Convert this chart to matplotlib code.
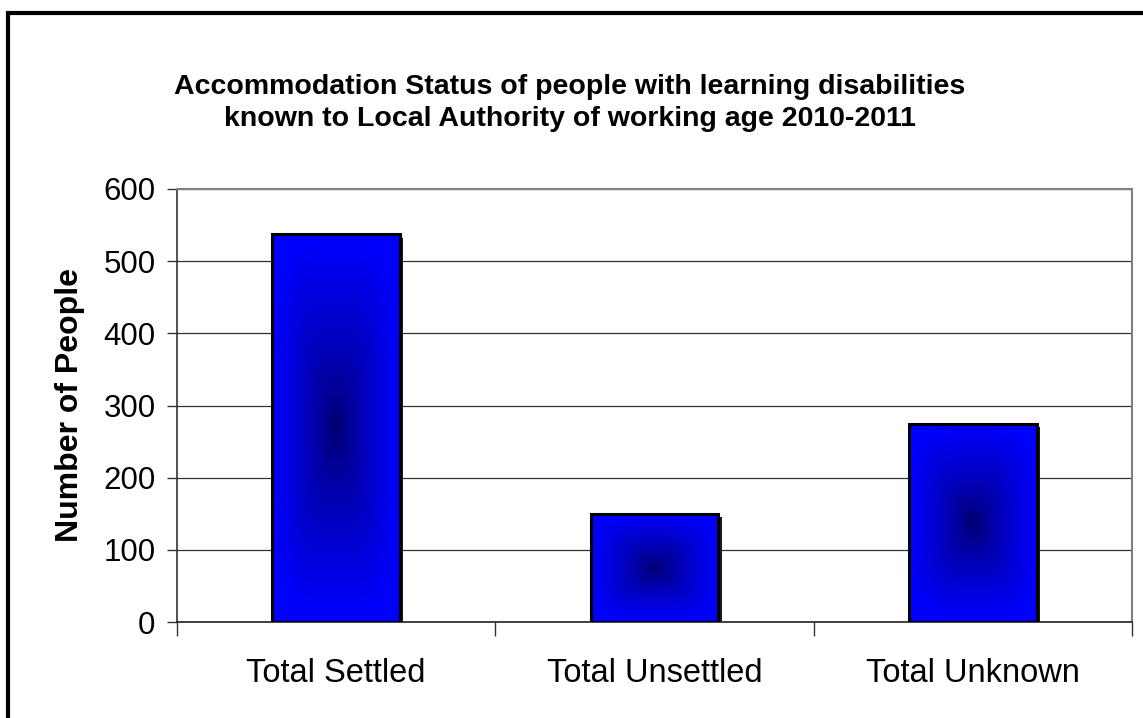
import numpy as np
import matplotlib
matplotlib.use('Agg')
from matplotlib import pyplot as plt
from matplotlib import patheffects as pe
from matplotlib.patches import Rectangle

categories = ['Total Settled', 'Total Unsettled', 'Total Unknown']
people = [537, 150, 275]
yticks = [0, 100, 200, 300, 400, 500, 600]

plt.rcParams['font.family'] = ['Liberation Sans', 'DejaVu Sans']

fig = plt.figure(figsize=(11.43, 7.18), dpi=100)
ax = fig.add_axes([177 / 1143, 1 - 622 / 718, (1132 - 177) / 1143, (622 - 189) / 718])

# outer chart frame (only left and top edges fall inside the image)
fig.patches.append(Rectangle((8 / 1143, -0.1), 1.2, 1 - 13 / 718 + 0.1, transform=fig.transFigure,
                             fill=False, edgecolor='black', lw=3, zorder=0))


def gradient_img(n=300):
    # rectangular "from centre" fill: dark navy in the middle, pure blue at the edges
    u = np.linspace(-1, 1, n)
    xx, yy = np.meshgrid(u, u)
    p = 4.0
    t = (np.abs(xx) ** p + np.abs(yy) ** p) ** (1 / p)
    t = np.clip(t, 0, 1) ** 0.7
    lo = np.array([0.0, 0.0, 0.40])
    hi = np.array([0.0, 0.0, 1.0])
    return lo + (hi - lo) * t[..., None]


x = np.arange(len(categories))
width = 0.4
img = gradient_img()
for xi, v in zip(x, people):
    ax.bar(xi, v, width=width, facecolor='none', edgecolor='black', lw=2.2, zorder=4)
    ax.add_patch(Rectangle((xi - width / 2, 0), width, v, facecolor='#1a1a1a', edgecolor='none', zorder=2,
                           path_effects=[pe.Stroke(offset=(2.5, -2.5))]))
    ax.imshow(img, extent=(xi - width / 2, xi + width / 2, 0, v), aspect='auto', zorder=3,
              interpolation='bilinear')

ax.set_xlim(-0.5, 2.5)
ax.set_ylim(0, 600)
ax.set_yticks(yticks)
ax.set_yticklabels([str(t) for t in yticks], fontsize=22.5)
ax.yaxis.grid(True, color='#333333', lw=0.9)
ax.set_axisbelow(True)

ax.set_xticks(x)
ax.set_xticklabels(categories, fontsize=23.5)
ax.set_xticks([-0.5, 0.5, 1.5, 2.5], minor=True)
ax.tick_params(axis='x', which='major', length=0, pad=26)
ax.tick_params(axis='x', which='minor', length=10, width=1, color='#333333', direction='out')
ax.tick_params(axis='y', length=7.5, width=1, color='#333333', direction='out', pad=8)

ax.set_ylabel('Number of People', fontsize=23, fontweight='bold', labelpad=13)

for side in ['top', 'right']:
    ax.spines[side].set_color('#808080')
    ax.spines[side].set_linewidth(1.5)
ax.spines['left'].set_color('#333333')
ax.spines['bottom'].set_color('#222222')
ax.spines['left'].set_linewidth(1.2)
ax.spines['bottom'].set_linewidth(1.2)

fig.text(570 / 1143, 1 - 103 / 718,
         'Accommodation Status of people with learning disabilities\n'
         'known to Local Authority of working age 2010-2011',
         ha='center', va='center', fontsize=20.5, fontweight='bold', linespacing=1.25)

fig.savefig('out.png', dpi=100)
